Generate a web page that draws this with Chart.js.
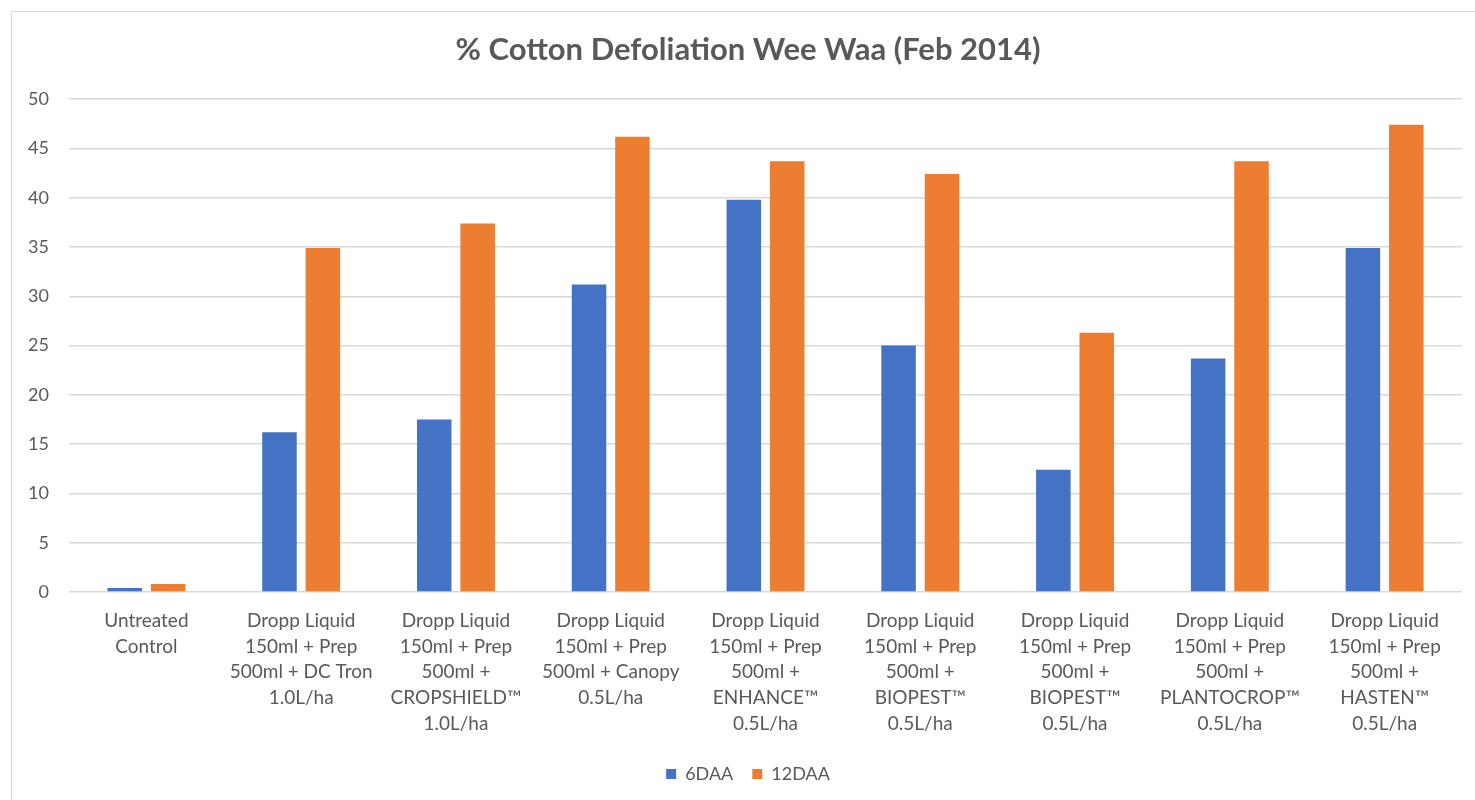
<!DOCTYPE html>
<html>
<head>
<meta charset="utf-8">
<script src="https://cdn.jsdelivr.net/npm/chart.js@4/dist/chart.umd.min.js"></script>
<style>
    html, body { margin: 0; padding: 0; background: #fff; overflow: hidden; }
    .frame { position: absolute; left: 11px; top: 11px; width: 1500px; height: 900px; border: 1px solid #d9d9d9; }
    #myChart { position: absolute; left: 0; top: 0; }
</style>
</head>
<body>
<div class="frame"></div>
<canvas id="myChart" width="1496" height="793"></canvas>
<script>
const categories = [
    ['Untreated', 'Control'],
    ['Dropp Liquid', '150ml + Prep', '500ml + DC Tron', '1.0L/ha'],
    ['Dropp Liquid', '150ml + Prep', '500ml +', 'CROPSHIELD™', '1.0L/ha'],
    ['Dropp Liquid', '150ml + Prep', '500ml + Canopy', '0.5L/ha'],
    ['Dropp Liquid', '150ml + Prep', '500ml +', 'ENHANCE™', '0.5L/ha'],
    ['Dropp Liquid', '150ml + Prep', '500ml +', 'BIOPEST™', '0.5L/ha'],
    ['Dropp Liquid', '150ml + Prep', '500ml +', 'BIOPEST™', '0.5L/ha'],
    ['Dropp Liquid', '150ml + Prep', '500ml +', 'PLANTOCROP™', '0.5L/ha'],
    ['Dropp Liquid', '150ml + Prep', '500ml +', 'HASTEN™', '0.5L/ha']
];
const daa6 = [0.4, 16.2, 17.5, 31.2, 39.8, 25.0, 12.4, 23.7, 34.9];
const daa12 = [0.8, 34.9, 37.4, 46.2, 43.7, 42.4, 26.3, 43.7, 47.4];

const textColor = '#595959';
const gridColor = '#d9d9d9';

const ctx = document.getElementById('myChart');
const myChart = new Chart(ctx, {
    type: 'bar',
    data: {
        labels: categories,
        datasets: [{
            label: '6DAA',
            data: daa6,
            backgroundColor: '#4472C4'
        }, {
            label: '12DAA',
            data: daa12,
            backgroundColor: '#ED7D31'
        }]
    },
    options: {
        responsive: false,
        animation: false,
        layout: {
            padding: { left: 0, right: 0, top: 0, bottom: 0 }
        },
        datasets: {
            bar: {
                categoryPercentage: 0.561,
                barPercentage: 0.795
            }
        },
        plugins: {
            title: {
                display: true,
                text: '% Cotton Defoliation Wee Waa (Feb 2014)',
                color: textColor,
                font: { family: 'Lato', size: 31, weight: 'bold' },
                padding: { top: 31, bottom: 31 }
            },
            legend: {
                position: 'bottom',
                labels: {
                    color: textColor,
                    font: { family: 'Lato', size: 18 },
                    boxWidth: 10,
                    boxHeight: 10,
                    padding: 19
                }
            },
            tooltip: { enabled: false }
        },
        scales: {
            x: {
                grid: { display: false, drawTicks: false },
                border: { display: false },
                ticks: {
                    color: textColor,
                    font: { family: 'Lato', size: 19, lineHeight: 1.35 },
                    autoSkip: false,
                    maxRotation: 0,
                    padding: 16
                },
                afterFit: (scale) => { scale.height = 154; }
            },
            y: {
                min: 0,
                max: 50,
                grid: { color: gridColor, lineWidth: 1.5, drawTicks: false },
                border: { display: false },
                ticks: {
                    stepSize: 5,
                    color: textColor,
                    font: { family: 'Lato', size: 18 },
                    padding: 20
                },
                afterFit: (scale) => { scale.width = 69; }
            },
            // empty right-hand box so the title and legend centre like the original
            yRight: {
                position: 'right',
                grid: { display: false, drawTicks: false },
                border: { display: false },
                ticks: { display: false },
                afterFit: (scale) => { scale.width = 34; }
            }
        }
    }
});
</script>
</body>
</html>
